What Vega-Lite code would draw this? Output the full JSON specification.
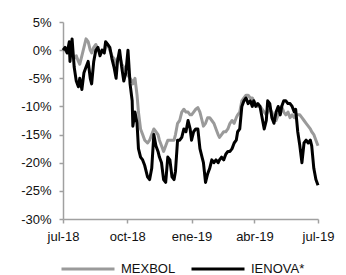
{
  "$schema": "https://vega.github.io/schema/vega-lite/v6.json",
  "width": 255,
  "height": 197,
  "autosize": "none",
  "padding": {"left": 63, "top": 22, "right": 28, "bottom": 56},
  "background": "white",
  "config": {
    "font": "Liberation Sans",
    "view": {"stroke": null},
    "axis": {
      "grid": false,
      "domainColor": "#a0a0a0",
      "domainWidth": 1.5,
      "tickColor": "#a0a0a0",
      "tickWidth": 1.5,
      "tickSize": 4,
      "labelFont": "Liberation Sans",
      "labelFontSize": 13,
      "labelColor": "#111111",
      "title": null
    }
  },
  "data": {
    "values": [
      {"date": "2018-07-01", "MEXBOL": 0, "IENOVA*": 0},
      {"date": "2018-07-04", "MEXBOL": 0, "IENOVA*": 0.5},
      {"date": "2018-07-07", "MEXBOL": -0.5, "IENOVA*": -0.5},
      {"date": "2018-07-10", "MEXBOL": 0, "IENOVA*": 1.5},
      {"date": "2018-07-11", "MEXBOL": -1, "IENOVA*": -2},
      {"date": "2018-07-14", "MEXBOL": -0.5, "IENOVA*": 2},
      {"date": "2018-07-17", "MEXBOL": -1.5, "IENOVA*": -3},
      {"date": "2018-07-20", "MEXBOL": -1, "IENOVA*": -5.5},
      {"date": "2018-07-23", "MEXBOL": -2, "IENOVA*": -6.5},
      {"date": "2018-07-25", "MEXBOL": -2.5, "IENOVA*": -5},
      {"date": "2018-07-28", "MEXBOL": -1, "IENOVA*": -7},
      {"date": "2018-07-31", "MEXBOL": 0.5, "IENOVA*": -4},
      {"date": "2018-08-03", "MEXBOL": 2, "IENOVA*": -3},
      {"date": "2018-08-06", "MEXBOL": 1.5, "IENOVA*": -2},
      {"date": "2018-08-09", "MEXBOL": 0, "IENOVA*": -5},
      {"date": "2018-08-11", "MEXBOL": -0.5, "IENOVA*": -6},
      {"date": "2018-08-14", "MEXBOL": 0.5, "IENOVA*": -2},
      {"date": "2018-08-17", "MEXBOL": 1, "IENOVA*": 0},
      {"date": "2018-08-20", "MEXBOL": 0, "IENOVA*": 0.5},
      {"date": "2018-08-23", "MEXBOL": -0.5, "IENOVA*": -1},
      {"date": "2018-08-26", "MEXBOL": 0, "IENOVA*": 0},
      {"date": "2018-08-29", "MEXBOL": -0.5, "IENOVA*": -0.5},
      {"date": "2018-08-31", "MEXBOL": 0.5, "IENOVA*": 1.5},
      {"date": "2018-09-03", "MEXBOL": 1, "IENOVA*": 1},
      {"date": "2018-09-06", "MEXBOL": 0, "IENOVA*": 0.5},
      {"date": "2018-09-09", "MEXBOL": -1, "IENOVA*": -1.5},
      {"date": "2018-09-12", "MEXBOL": -1.5, "IENOVA*": -3},
      {"date": "2018-09-15", "MEXBOL": -2.5, "IENOVA*": -5},
      {"date": "2018-09-17", "MEXBOL": -1.5, "IENOVA*": -2},
      {"date": "2018-09-20", "MEXBOL": -1, "IENOVA*": 0},
      {"date": "2018-09-23", "MEXBOL": -2.5, "IENOVA*": -3},
      {"date": "2018-09-26", "MEXBOL": -3, "IENOVA*": -5.5},
      {"date": "2018-09-29", "MEXBOL": -4, "IENOVA*": -4},
      {"date": "2018-10-02", "MEXBOL": -4.5, "IENOVA*": 0},
      {"date": "2018-10-05", "MEXBOL": -5, "IENOVA*": -6},
      {"date": "2018-10-08", "MEXBOL": -5.5, "IENOVA*": -9},
      {"date": "2018-10-09", "MEXBOL": -6, "IENOVA*": -13.5},
      {"date": "2018-10-12", "MEXBOL": -5, "IENOVA*": -11},
      {"date": "2018-10-15", "MEXBOL": -8, "IENOVA*": -13},
      {"date": "2018-10-17", "MEXBOL": -11, "IENOVA*": -17.5},
      {"date": "2018-10-20", "MEXBOL": -14, "IENOVA*": -19},
      {"date": "2018-10-23", "MEXBOL": -15, "IENOVA*": -19.5},
      {"date": "2018-10-26", "MEXBOL": -16, "IENOVA*": -20.5},
      {"date": "2018-10-30", "MEXBOL": -16.5, "IENOVA*": -22.5},
      {"date": "2018-11-02", "MEXBOL": -16, "IENOVA*": -23},
      {"date": "2018-11-05", "MEXBOL": -15, "IENOVA*": -21},
      {"date": "2018-11-08", "MEXBOL": -14, "IENOVA*": -15},
      {"date": "2018-11-11", "MEXBOL": -14.5, "IENOVA*": -17},
      {"date": "2018-11-14", "MEXBOL": -15, "IENOVA*": -18},
      {"date": "2018-11-16", "MEXBOL": -16, "IENOVA*": -19},
      {"date": "2018-11-19", "MEXBOL": -17, "IENOVA*": -20},
      {"date": "2018-11-22", "MEXBOL": -18, "IENOVA*": -23},
      {"date": "2018-11-25", "MEXBOL": -17, "IENOVA*": -23.5},
      {"date": "2018-11-28", "MEXBOL": -16, "IENOVA*": -19},
      {"date": "2018-12-01", "MEXBOL": -16, "IENOVA*": -19.5},
      {"date": "2018-12-04", "MEXBOL": -16, "IENOVA*": -22.5},
      {"date": "2018-12-07", "MEXBOL": -16, "IENOVA*": -23},
      {"date": "2018-12-09", "MEXBOL": -15, "IENOVA*": -21.5},
      {"date": "2018-12-12", "MEXBOL": -13, "IENOVA*": -16},
      {"date": "2018-12-15", "MEXBOL": -12.5, "IENOVA*": -16},
      {"date": "2018-12-18", "MEXBOL": -11, "IENOVA*": -15.5},
      {"date": "2018-12-21", "MEXBOL": -10.5, "IENOVA*": -14},
      {"date": "2018-12-24", "MEXBOL": -11, "IENOVA*": -14.5},
      {"date": "2018-12-27", "MEXBOL": -11, "IENOVA*": -12.5},
      {"date": "2018-12-30", "MEXBOL": -11.5, "IENOVA*": -14},
      {"date": "2019-01-01", "MEXBOL": -11.5, "IENOVA*": -16},
      {"date": "2019-01-04", "MEXBOL": -11, "IENOVA*": -14.5},
      {"date": "2019-01-07", "MEXBOL": -10.5, "IENOVA*": -14},
      {"date": "2019-01-10", "MEXBOL": -10.2, "IENOVA*": -14},
      {"date": "2019-01-13", "MEXBOL": -11, "IENOVA*": -17.5},
      {"date": "2019-01-16", "MEXBOL": -12.5, "IENOVA*": -19},
      {"date": "2019-01-18", "MEXBOL": -13.5, "IENOVA*": -20},
      {"date": "2019-01-21", "MEXBOL": -13, "IENOVA*": -23.5},
      {"date": "2019-01-24", "MEXBOL": -12, "IENOVA*": -22},
      {"date": "2019-01-27", "MEXBOL": -12, "IENOVA*": -21},
      {"date": "2019-01-30", "MEXBOL": -12.5, "IENOVA*": -19.5},
      {"date": "2019-02-02", "MEXBOL": -13, "IENOVA*": -20},
      {"date": "2019-02-05", "MEXBOL": -14, "IENOVA*": -19.5},
      {"date": "2019-02-08", "MEXBOL": -15, "IENOVA*": -20},
      {"date": "2019-02-10", "MEXBOL": -15.5, "IENOVA*": -19.5},
      {"date": "2019-02-13", "MEXBOL": -15, "IENOVA*": -19},
      {"date": "2019-02-16", "MEXBOL": -14.5, "IENOVA*": -19.5},
      {"date": "2019-02-19", "MEXBOL": -14.5, "IENOVA*": -18.5},
      {"date": "2019-02-22", "MEXBOL": -14, "IENOVA*": -18},
      {"date": "2019-02-25", "MEXBOL": -13, "IENOVA*": -18},
      {"date": "2019-02-28", "MEXBOL": -12.5, "IENOVA*": -17.5},
      {"date": "2019-03-03", "MEXBOL": -13, "IENOVA*": -16.5},
      {"date": "2019-03-06", "MEXBOL": -12, "IENOVA*": -16},
      {"date": "2019-03-08", "MEXBOL": -11.5, "IENOVA*": -14.5},
      {"date": "2019-03-11", "MEXBOL": -11, "IENOVA*": -14},
      {"date": "2019-03-14", "MEXBOL": -9, "IENOVA*": -10},
      {"date": "2019-03-17", "MEXBOL": -8.5, "IENOVA*": -9},
      {"date": "2019-03-20", "MEXBOL": -8, "IENOVA*": -8.5},
      {"date": "2019-03-23", "MEXBOL": -8, "IENOVA*": -9.5},
      {"date": "2019-03-26", "MEXBOL": -8.5, "IENOVA*": -9},
      {"date": "2019-03-29", "MEXBOL": -8.5, "IENOVA*": -10},
      {"date": "2019-03-31", "MEXBOL": -9, "IENOVA*": -9},
      {"date": "2019-04-03", "MEXBOL": -9.5, "IENOVA*": -10},
      {"date": "2019-04-06", "MEXBOL": -10, "IENOVA*": -9.5},
      {"date": "2019-04-09", "MEXBOL": -10, "IENOVA*": -10},
      {"date": "2019-04-12", "MEXBOL": -10.5, "IENOVA*": -12},
      {"date": "2019-04-15", "MEXBOL": -11, "IENOVA*": -14},
      {"date": "2019-04-18", "MEXBOL": -11.5, "IENOVA*": -12.5},
      {"date": "2019-04-20", "MEXBOL": -11, "IENOVA*": -9},
      {"date": "2019-04-23", "MEXBOL": -10.5, "IENOVA*": -9.5},
      {"date": "2019-04-26", "MEXBOL": -11, "IENOVA*": -12},
      {"date": "2019-04-29", "MEXBOL": -12, "IENOVA*": -13},
      {"date": "2019-05-02", "MEXBOL": -12.5, "IENOVA*": -11},
      {"date": "2019-05-05", "MEXBOL": -11.5, "IENOVA*": -10},
      {"date": "2019-05-08", "MEXBOL": -10.5, "IENOVA*": -11.5},
      {"date": "2019-05-10", "MEXBOL": -10, "IENOVA*": -10},
      {"date": "2019-05-13", "MEXBOL": -11, "IENOVA*": -9},
      {"date": "2019-05-16", "MEXBOL": -11.5, "IENOVA*": -9},
      {"date": "2019-05-19", "MEXBOL": -11, "IENOVA*": -9.5},
      {"date": "2019-05-22", "MEXBOL": -12, "IENOVA*": -9.5},
      {"date": "2019-05-25", "MEXBOL": -11.5, "IENOVA*": -10},
      {"date": "2019-05-28", "MEXBOL": -12, "IENOVA*": -11},
      {"date": "2019-05-30", "MEXBOL": -11.5, "IENOVA*": -10.5},
      {"date": "2019-06-02", "MEXBOL": -11.5, "IENOVA*": -14.5},
      {"date": "2019-06-05", "MEXBOL": -11.5, "IENOVA*": -17},
      {"date": "2019-06-08", "MEXBOL": -12, "IENOVA*": -20},
      {"date": "2019-06-11", "MEXBOL": -12.5, "IENOVA*": -16.5},
      {"date": "2019-06-14", "MEXBOL": -13, "IENOVA*": -16},
      {"date": "2019-06-17", "MEXBOL": -13.5, "IENOVA*": -16.5},
      {"date": "2019-06-20", "MEXBOL": -14, "IENOVA*": -16},
      {"date": "2019-06-22", "MEXBOL": -14.5, "IENOVA*": -17},
      {"date": "2019-06-25", "MEXBOL": -15, "IENOVA*": -21},
      {"date": "2019-06-28", "MEXBOL": -16, "IENOVA*": -23},
      {"date": "2019-07-01", "MEXBOL": -17, "IENOVA*": -24}
    ]
  },
  "transform": [
    {"fold": ["MEXBOL", "IENOVA*"], "as": ["serie", "valor"]}
  ],
  "mark": {"type": "line", "strokeWidth": 3, "strokeJoin": "round", "strokeCap": "butt", "clip": false},
  "encoding": {
    "x": {
      "field": "date",
      "type": "temporal",
      "scale": {"type": "utc", "domain": [{"year": 2018, "month": 7, "date": 1, "utc": true}, {"year": 2019, "month": 7, "date": 1, "utc": true}]},
      "axis": {
        "values": [
          {"year": 2018, "month": 7, "date": 1, "utc": true},
          {"year": 2018, "month": 10, "date": 1, "utc": true},
          {"year": 2019, "month": 1, "date": 1, "utc": true},
          {"year": 2019, "month": 4, "date": 1, "utc": true},
          {"year": 2019, "month": 7, "date": 1, "utc": true}
        ],
        "labelExpr": "['ene','feb','mar','abr','may','jun','jul','ago','sep','oct','nov','dic'][utcmonth(datum.value)] + '-' + utcFormat(datum.value, '%y')",
        "labelPadding": 7,
        "labelFlush": false,
        "labelOverlap": false
      }
    },
    "y": {
      "field": "valor",
      "type": "quantitative",
      "scale": {"domain": [-30, 5], "nice": false, "zero": false},
      "axis": {
        "values": [5, 0, -5, -10, -15, -20, -25, -30],
        "labelExpr": "datum.value + '%'",
        "labelPadding": 8
      }
    },
    "color": {
      "field": "serie",
      "type": "nominal",
      "scale": {"domain": ["MEXBOL", "IENOVA*"], "range": ["#9a9a9a", "#000000"]},
      "legend": {
        "title": null,
        "orient": "none",
        "legendX": -3,
        "legendY": 219,
        "padding": 0,
        "direction": "horizontal",
        "symbolType": "stroke",
        "symbolSize": 2809,
        "symbolStrokeWidth": 3,
        "labelFontSize": 13,
        "labelFont": "Liberation Sans",
        "labelColor": "#111111",
        "labelOffset": 5,
        "columnPadding": 9
      }
    },
    "order": {"field": "serie", "sort": "descending"}
  }
}
